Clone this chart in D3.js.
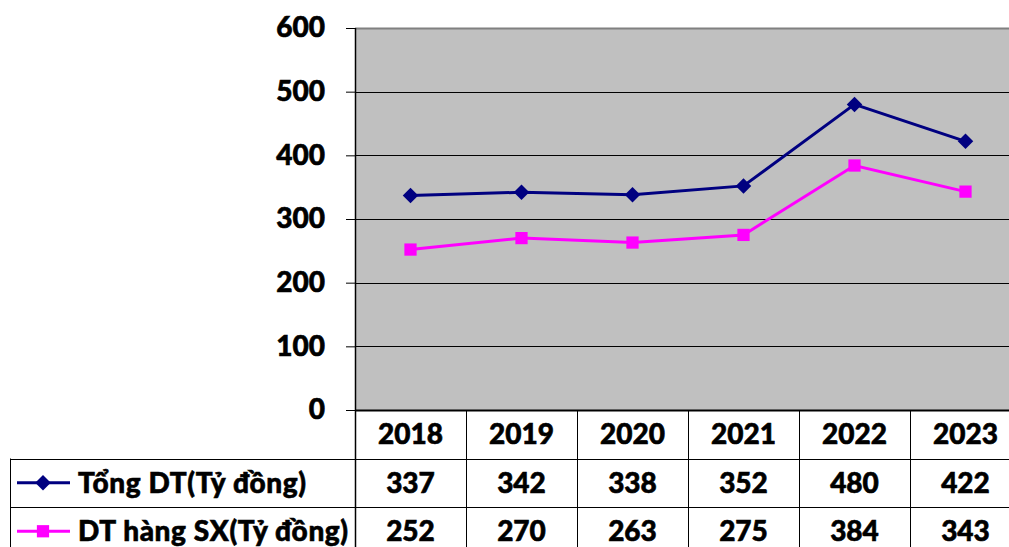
<!DOCTYPE html>
<html>
<head>
<meta charset="utf-8">
<script src="https://cdn.jsdelivr.net/npm/d3@7"></script>
<style>
  body { margin: 0; background: #fff; }
  text { font-family: Lato, "Open Sans", sans-serif; font-weight: 900; fill: #000; stroke: #000; stroke-width: 0.6px; }
</style>
</head>
<body>
<div id="chart"></div>
<script>
// Data
const years = ['2018', '2019', '2020', '2021', '2022', '2023'];
const tongDT = [337, 342, 338, 352, 480, 422];
const hangSX = [252, 270, 263, 275, 384, 343];
const seriesNames = ['Tổng DT(Tỷ đồng)', 'DT hàng SX(Tỷ đồng)'];
const yTicks = [0, 100, 200, 300, 400, 500, 600];

const W = 1009, H = 547;
const plot = { left: 355, right: 1021, top: 28, bottom: 410 };
const rowH = 48.5;
const fs = 28;

const svg = d3.select('#chart').append('svg')
    .attr('width', W).attr('height', H);

const x = d3.scaleBand().domain(years).range([plot.left, plot.right]);
const y = d3.scaleLinear().domain([0, 600]).range([plot.bottom, plot.top]);

// Plot background
svg.append('rect')
    .attr('x', plot.left).attr('y', plot.top)
    .attr('width', plot.right - plot.left).attr('height', plot.bottom - plot.top)
    .attr('fill', '#c0c0c0');

// Gridlines
svg.selectAll('.grid')
    .data(yTicks.slice(1))
    .join('line')
    .attr('x1', plot.left).attr('x2', W)
    .attr('y1', d => Math.round(y(d)) + 0.5).attr('y2', d => Math.round(y(d)) + 0.5)
    .attr('stroke', d => d === 600 ? '#808080' : '#000')
    .attr('stroke-width', d => d === 600 ? 2 : 1);

// Y axis
const yAxis = svg.append('g')
    .attr('transform', `translate(${plot.left},0)`)
    .call(d3.axisLeft(y).tickValues(yTicks).tickSize(9).tickPadding(21));
yAxis.select('.domain').remove();
yAxis.selectAll('line').attr('stroke', '#000');
yAxis.selectAll('text').attr('font-size', fs).attr('font-family', null).attr('fill', null);

// Table lines
const rows = [plot.bottom, plot.bottom + rowH, plot.bottom + 2 * rowH];
svg.append('line')
    .attr('x1', plot.left).attr('x2', W)
    .attr('y1', plot.bottom + 0.5).attr('y2', plot.bottom + 0.5)
    .attr('stroke', '#000').attr('stroke-width', 2);
svg.selectAll('.hrow')
    .data(rows.slice(1))
    .join('line')
    .attr('x1', 10).attr('x2', W)
    .attr('y1', d => Math.round(d) + 0.5).attr('y2', d => Math.round(d) + 0.5)
    .attr('stroke', '#000');
svg.append('line')
    .attr('x1', 10.5).attr('x2', 10.5)
    .attr('y1', rows[1]).attr('y2', H)
    .attr('stroke', '#000');
svg.append('line')
    .attr('x1', plot.left + 0.5).attr('x2', plot.left + 0.5)
    .attr('y1', plot.top).attr('y2', H)
    .attr('stroke', '#000').attr('stroke-width', 1.5);
svg.selectAll('.vcol')
    .data(years.slice(1))
    .join('line')
    .attr('x1', d => Math.round(x(d)) + 0.5).attr('x2', d => Math.round(x(d)) + 0.5)
    .attr('y1', plot.bottom).attr('y2', H)
    .attr('stroke', '#000');

// Header years
svg.selectAll('.year')
    .data(years)
    .join('text')
    .attr('x', d => x(d) + x.bandwidth() / 2)
    .attr('y', plot.bottom + rowH / 2)
    .attr('dy', '0.36em')
    .attr('text-anchor', 'middle')
    .attr('font-size', fs)
    .text(d => d);

// Series (diamond = square rotated 45deg)
const series = [
    { name: seriesNames[0], values: tongDT, color: '#000080', symbol: d3.symbolSquare, size: 120, rot: 45 },
    { name: seriesNames[1], values: hangSX, color: '#ff00ff', symbol: d3.symbolSquare, size: 150, rot: 0 }
];
const cx = i => x(years[i]) + x.bandwidth() / 2;

series.forEach((s, si) => {
    const line = d3.line().x((d, i) => cx(i)).y(d => y(d));
    svg.append('path')
        .datum(s.values)
        .attr('d', line)
        .attr('fill', 'none')
        .attr('stroke', s.color)
        .attr('stroke-width', 3);
    svg.selectAll('.m' + si)
        .data(s.values)
        .join('path')
        .attr('d', d3.symbol().type(s.symbol).size(s.size))
        .attr('transform', (d, i) => `translate(${cx(i)},${y(d)}) rotate(${s.rot})`)
        .attr('fill', s.color);

    // Table row
    const rowMid = rows[si + 1] + rowH / 2;
    svg.append('line')
        .attr('x1', 17).attr('x2', 70)
        .attr('y1', rowMid).attr('y2', rowMid)
        .attr('stroke', s.color).attr('stroke-width', 3);
    svg.append('path')
        .attr('d', d3.symbol().type(s.symbol).size(s.size))
        .attr('transform', `translate(43,${rowMid}) rotate(${s.rot})`)
        .attr('fill', s.color);
    svg.append('text')
        .attr('x', 78).attr('y', rowMid)
        .attr('dy', '0.36em')
        .attr('font-size', fs)
        .attr('letter-spacing', 0.6)
        .text(s.name);
    svg.selectAll('.v' + si)
        .data(s.values)
        .join('text')
        .attr('x', (d, i) => cx(i))
        .attr('y', rowMid)
        .attr('dy', '0.36em')
        .attr('text-anchor', 'middle')
        .attr('font-size', fs)
        .text(d => d);
});
</script>
</body>
</html>
